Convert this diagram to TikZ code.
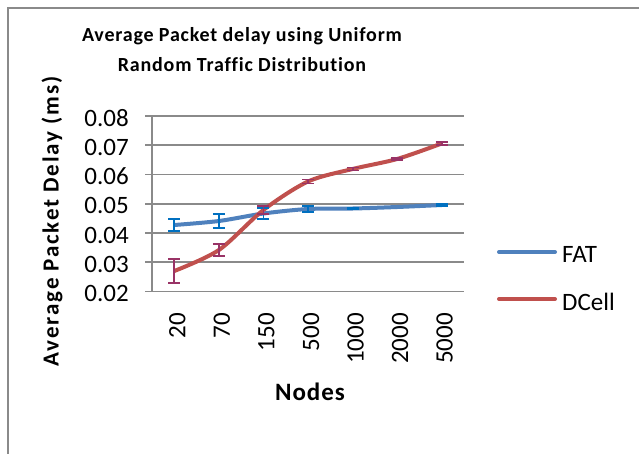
\documentclass[tikz,border=0pt]{standalone}
\usepackage{fontspec}
\setmainfont{Carlito}[Ligatures=CommonOff]
\newfontfamily\titlefam{Carlito}[LetterSpace=4,Ligatures=CommonOff]
\newfontfamily\axisfam{Carlito}[LetterSpace=8,Ligatures=CommonOff]
\definecolor{fatblue}{HTML}{4F81BD}
\definecolor{dcred}{HTML}{C0504D}
\definecolor{errblue}{HTML}{0070C0}
\definecolor{errpurple}{HTML}{993366}
\definecolor{gridgray}{HTML}{8A8A8A}
\tikzset{
  frameline/.style={draw=gridgray,line width=1.2pt},
  gridline/.style={draw=gridgray,line width=1.6pt},
  fatline/.style={draw=fatblue,line width=4pt,line join=round},
  dcline/.style={draw=dcred,line width=4pt,line join=round},
  errfat/.style={draw=errblue,line width=1.8pt},
  errdc/.style={draw=errpurple,line width=1.8pt},
  ticklab/.style={font=\fontsize{25}{25}\selectfont,inner sep=0pt},
  xlab/.style={font=\fontsize{25}{25}\selectfont,inner sep=0pt,rotate=90,anchor=base east},
  titlelab/.style={font=\titlefam\fontsize{20}{20}\selectfont\bfseries,inner sep=0pt,anchor=base},
}
\begin{document}
\begin{tikzpicture}[x=1pt,y=-1pt]
\useasboundingbox (0,0) rectangle (639,453);
\clip (0,0) rectangle (639,453);
\fill[white] (0,0) rectangle (639,453);
\draw[frameline] (8,8) rectangle (700,500);
% grid and ticks
\foreach \v/\yy in {0.08/116,0.07/145.25,0.06/174.5,0.05/203.75,0.04/233,0.03/262.25,0.02/291.5}{
  \draw[gridline] (145,\yy) -- (464,\yy);
  \node[ticklab,anchor=base east] (yl\v) at (129,\yy+10) {\v};
}
\draw[gridline] (152,116) -- (152,291.5);
% x labels
\foreach \i/\c/\t in {1/174.3/20,2/218.9/70,3/263.4/150,4/308/500,5/352.6/1000,6/397.1/2000,7/441.7/5000}{
  \node[xlab] (xl\i) at (\c+11,313) {\t};
}
% data
\draw[fatline] plot[smooth,tension=0.5] coordinates {(174.3,225) (218.9,221) (263.4,213.5) (308,209) (352.6,208.5) (397.1,207) (441.7,205)};
\draw[dcline] plot[smooth,tension=0.5] coordinates {(174.3,271) (218.9,250) (263.4,210) (308,181.5) (352.6,169) (397.1,159) (441.7,143.5)};
% error bars
\foreach \c/\yy/\e in {174.3/225/6,218.9/221/7,263.4/213.5/5.5,308/209/3,352.6/208.5/0.8,441.7/205/1}{
  \draw[errfat] (\c,\yy-\e) -- (\c,\yy+\e) (\c-6,\yy-\e) -- (\c+6,\yy-\e) (\c-6,\yy+\e) -- (\c+6,\yy+\e);
}
\foreach \c/\yy/\e in {174.3/271/12,218.9/250/6,263.4/210/4,308/181.5/2,352.6/169/1.5,397.1/159/1,441.7/143.5/1.5}{
  \draw[errdc] (\c,\yy-\e) -- (\c,\yy+\e) (\c-6,\yy-\e) -- (\c+6,\yy-\e) (\c-6,\yy+\e) -- (\c+6,\yy+\e);
}
% titles
\node[titlelab] (t1) at (242,41.5) {Average Packet delay using Uniform};
\node[titlelab] (t2) at (242,71.5) {Random Traffic Distribution};
\node[font=\titlefam\fontsize{25}{25}\selectfont\bfseries,inner sep=0pt,anchor=base] (xt) at (310,400) {Nodes};
\node[font=\axisfam\fontsize{23}{23}\selectfont\bfseries,inner sep=0pt,rotate=90,anchor=center] (yt) at (52,221.5) {Average Packet Delay (ms)};
% legend
\coordinate (lf1) at (499,252); \coordinate (lf2) at (555,252);
\coordinate (ld1) at (499,299); \coordinate (ld2) at (555,299);
\draw[fatline,line cap=round] (lf1) -- (lf2);
\draw[dcline,line cap=round] (ld1) -- (ld2);
\node[ticklab,anchor=base west] (lfat) at (562,262) {FAT};
\node[ticklab,anchor=base west] (ldc) at (562,310) {DCell};
\end{tikzpicture}
\end{document}
